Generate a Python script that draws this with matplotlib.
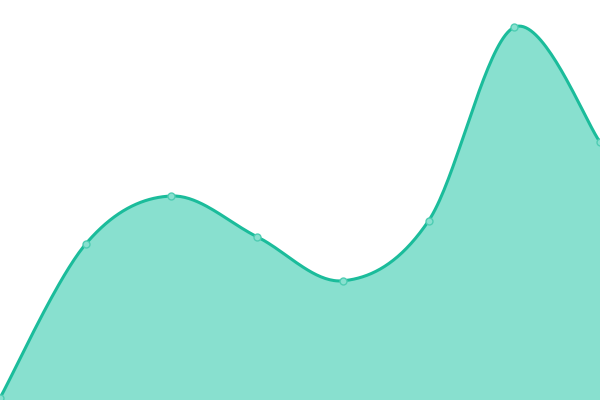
import numpy as np
import matplotlib
matplotlib.use("Agg")
import matplotlib.pyplot as plt

# data (y axis 0..100)
x_vals = [0, 1, 2, 3, 4, 5, 6, 7]
y_vals = [0.5, 39, 51, 40.8, 29.8, 44.8, 93.2, 64.5]

line_color = "#1bbc9b"
fill_color = "#88e0cf"


def smooth_curve(xs, ys, steps=40):
    """Catmull-Rom style bezier through the points."""
    xs = np.asarray(xs, float)
    ys = np.asarray(ys, float)
    px = np.concatenate([[xs[0]], xs, [xs[-1]]])
    py = np.concatenate([[ys[0]], ys, [ys[-1]]])
    out_x, out_y = [], []
    t = np.linspace(0, 1, steps)
    for i in range(1, len(px) - 2):
        p0 = np.array([px[i], py[i]])
        p3 = np.array([px[i + 1], py[i + 1]])
        p1 = p0 + (p3 - np.array([px[i - 1], py[i - 1]])) / 6
        p2 = p3 - (np.array([px[i + 2], py[i + 2]]) - p0) / 6
        b = ((1 - t) ** 3)[:, None] * p0 + (3 * (1 - t) ** 2 * t)[:, None] * p1 \
            + (3 * (1 - t) * t ** 2)[:, None] * p2 + (t ** 3)[:, None] * p3
        out_x.extend(b[:, 0])
        out_y.extend(b[:, 1])
    return np.array(out_x), np.array(out_y)


fig = plt.figure(figsize=(6, 4), dpi=100)
ax = fig.add_axes([0, 0, 1, 1])

sx, sy = smooth_curve(x_vals, y_vals)
ax.fill_between(sx, sy, 0, color=fill_color, linewidth=0)
ax.plot(sx, sy, color=line_color, linewidth=2.2, solid_capstyle="round")
ax.plot(x_vals, y_vals, "o", markersize=5, markerfacecolor=fill_color,
        markeredgecolor="#4fcdb3", markeredgewidth=1)

ax.set_xlim(0, 7)
ax.set_ylim(0, 100)
ax.axis("off")

fig.savefig("out.png", dpi=100)
